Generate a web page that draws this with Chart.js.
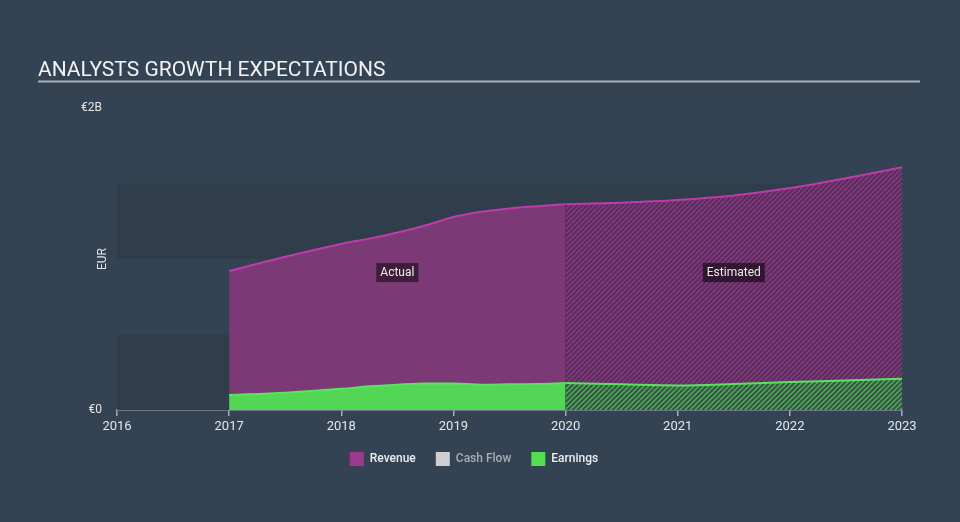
<!DOCTYPE html>
<html>
<head>
<meta charset="utf-8">
<script src="https://cdn.jsdelivr.net/npm/chart.js@4.4.1/dist/chart.umd.min.js"></script>
<style>
  html, body { margin: 0; padding: 0; background: #344353; }
  #wrap { width: 960px; height: 522px; }
</style>
</head>
<body>
<div id="wrap"><canvas id="c" width="960" height="522"></canvas></div>
<script>
// ---- data ----
const actualYears = [2017, 2017.5, 2018, 2018.25, 2018.5, 2018.75, 2019, 2019.25, 2019.5, 2019.75, 2020];
const estimateYears = [2020, 2020.5, 2021, 2021.5, 2022, 2022.5, 2023];
const revenueActual = [0.92, 1.015, 1.10, 1.135, 1.175, 1.222, 1.278, 1.313, 1.335, 1.35, 1.363];
const revenueEstimate = [1.363, 1.373, 1.39, 1.42, 1.47, 1.535, 1.607];
const earningsActual = [0.10, 0.115, 0.14, 0.157, 0.168, 0.176, 0.176, 0.168, 0.17, 0.172, 0.178];
const earningsEstimate = [0.178, 0.17, 0.163, 0.172, 0.185, 0.195, 0.207];
const xTicks = [2016, 2017, 2018, 2019, 2020, 2021, 2022, 2023];
const yTickLabels = { 0: '€0', 2: '€2B' };
const legendNames = ['Revenue', 'Cash Flow', 'Earnings'];

const toPts = (xs, ys) => xs.map((x, i) => ({ x: x, y: ys[i] }));

function hatch(base, stripe) {
  const s = 5;
  const c = document.createElement('canvas');
  c.width = s; c.height = s;
  const g = c.getContext('2d');
  g.fillStyle = base; g.fillRect(0, 0, s, s);
  g.strokeStyle = stripe; g.lineWidth = 1.3;
  g.beginPath();
  g.moveTo(0, s); g.lineTo(s, 0);
  g.moveTo(-1, 1); g.lineTo(1, -1);
  g.moveTo(s - 1, s + 1); g.lineTo(s + 1, s - 1);
  g.stroke();
  return document.getElementById('c').getContext('2d').createPattern(c, 'repeat');
}

Chart.defaults.font.family = 'Roboto, "Open Sans", sans-serif';

const bandPlugin = {
  id: 'bands',
  beforeDatasetsDraw(chart) {
    const { ctx, scales: { x, y } } = chart;
    ctx.save();
    ctx.fillStyle = '#303e4c';
    [[0, 0.5], [1, 1.5]].forEach(([a, b]) => {
      const x0 = x.getPixelForValue(2016), x1 = x.getPixelForValue(2023);
      const y0 = y.getPixelForValue(b), y1 = y.getPixelForValue(a);
      ctx.fillRect(x0, y0, x1 - x0, y1 - y0);
    });
    ctx.restore();
  }
};

const decorPlugin = {
  id: 'decor',
  afterDraw(chart) {
    const { ctx, chartArea, scales: { x, y } } = chart;
    ctx.save();
    // title
    ctx.fillStyle = '#f2f2f2';
    ctx.font = '21px Roboto';
    ctx.textBaseline = 'alphabetic';
    ctx.textAlign = 'left';
    ctx.fillText('ANALYSTS GROWTH EXPECTATIONS', 38, 76);
    ctx.fillStyle = '#a7afb8';
    ctx.fillRect(38, 80.5, 882, 2);
    // axis title
    ctx.save();
    ctx.translate(103, (chartArea.top + chartArea.bottom) / 2);
    ctx.rotate(-Math.PI / 2);
    ctx.textAlign = 'center';
    ctx.textBaseline = 'middle';
    ctx.font = '12px Roboto';
    ctx.fillStyle = '#e3e3e3';
    ctx.fillText('EUR', 0, 0);
    ctx.restore();
    // labels
    const labels = [
      ['Actual', (2017 + 2020) / 2, 'rgba(0,0,0,0.5)'],
      ['Estimated', (2020 + 2023) / 2, 'rgba(0,0,0,0.55)']
    ];
    ctx.font = '12px Roboto';
    ctx.textAlign = 'center';
    ctx.textBaseline = 'middle';
    const yp = y.getPixelForValue(0.91);
    labels.forEach(([t, xv, bg]) => {
      const xp = x.getPixelForValue(xv);
      const w = ctx.measureText(t).width + 8;
      ctx.fillStyle = bg;
      ctx.fillRect(xp - w / 2, yp - 9.5, w, 19);
      ctx.fillStyle = '#ececec';
      ctx.fillText(t, xp, yp + 0.5);
    });
    ctx.restore();
  }
};

const revLine = '#bd3cab', revFill = '#7b3a75';
const earnLine = '#5be35f', earnFill = '#53d655';

const chart = new Chart(document.getElementById('c'), {
  type: 'line',
  data: {
    datasets: [
      { label: 'Revenue', data: toPts(actualYears, revenueActual), borderColor: revLine, backgroundColor: revFill,
        fill: 'origin', borderWidth: 2, pointRadius: 0, cubicInterpolationMode: 'monotone', order: 2 },
      { label: 'Revenue est', data: toPts(estimateYears, revenueEstimate), borderColor: revLine,
        backgroundColor: hatch('rgba(92,46,92,0.9)', 'rgba(146,58,138,0.9)'),
        fill: 4, borderWidth: 2, pointRadius: 0, cubicInterpolationMode: 'monotone', order: 2 },
      { label: 'Cash Flow', data: [], borderColor: '#cccccc', backgroundColor: '#cccccc', order: 3 },
      { label: 'Earnings', data: toPts(actualYears, earningsActual), borderColor: earnLine, backgroundColor: earnFill,
        fill: 'origin', borderWidth: 2, pointRadius: 0, cubicInterpolationMode: 'monotone', order: 0 },
      { label: 'Earnings est', data: toPts(estimateYears, earningsEstimate), borderColor: earnLine,
        backgroundColor: hatch('rgba(55,84,72,1)', 'rgba(83,200,85,0.85)'),
        fill: 'origin', borderWidth: 2, pointRadius: 0, cubicInterpolationMode: 'monotone', order: 0 }
    ]
  },
  options: {
    responsive: false,
    animation: false,
    layout: { padding: { top: 108, left: 46, right: 58, bottom: 46 } },
    scales: {
      x: {
        type: 'linear', min: 2016, max: 2023,
        afterBuildTicks: (s) => { s.ticks = xTicks.map(v => ({ value: v })); },
        afterFit: (s) => { s.height = 22; },
        ticks: { color: '#e6e6e6', font: { size: 13 }, padding: 3, autoSkip: false, maxRotation: 0,
          callback: (v) => String(v) },
        grid: { drawOnChartArea: false, drawTicks: true, tickLength: 6, color: '#a3acb6', lineWidth: 1.5 },
        border: { display: true, color: '#a3acb6', width: 1.5 }
      },
      y: {
        min: 0, max: 2,
        afterBuildTicks: (s) => { s.ticks = Object.keys(yTickLabels).map(v => ({ value: Number(v) })); },
        afterFit: (s) => { s.width = 71; },
        ticks: { color: '#e3e3e3', font: { size: 12 }, padding: 15, callback: (v) => yTickLabels[v] || '' },
        grid: { display: false, drawTicks: false },
        border: { display: false }
      }
    },
    plugins: {
      legend: {
        position: 'bottom',
        onClick: null,
        labels: {
          boxWidth: 14, boxHeight: 14, padding: 20,
          font: { size: 12, weight: '500' },
          generateLabels: () => [
            { text: legendNames[0], fillStyle: '#a0378f', strokeStyle: '#a0378f', lineWidth: 0, fontColor: '#eeeeee', datasetIndex: 0, hidden: false },
            { text: legendNames[1], fillStyle: '#cfcfcf', strokeStyle: '#cfcfcf', lineWidth: 0, fontColor: '#a9adb3', datasetIndex: 2, hidden: false },
            { text: legendNames[2], fillStyle: '#52e052', strokeStyle: '#52e052', lineWidth: 0, fontColor: '#eeeeee', datasetIndex: 3, hidden: false }
          ]
        }
      },
      tooltip: { enabled: false }
    }
  },
  plugins: [bandPlugin, decorPlugin]
});
</script>
</body>
</html>
